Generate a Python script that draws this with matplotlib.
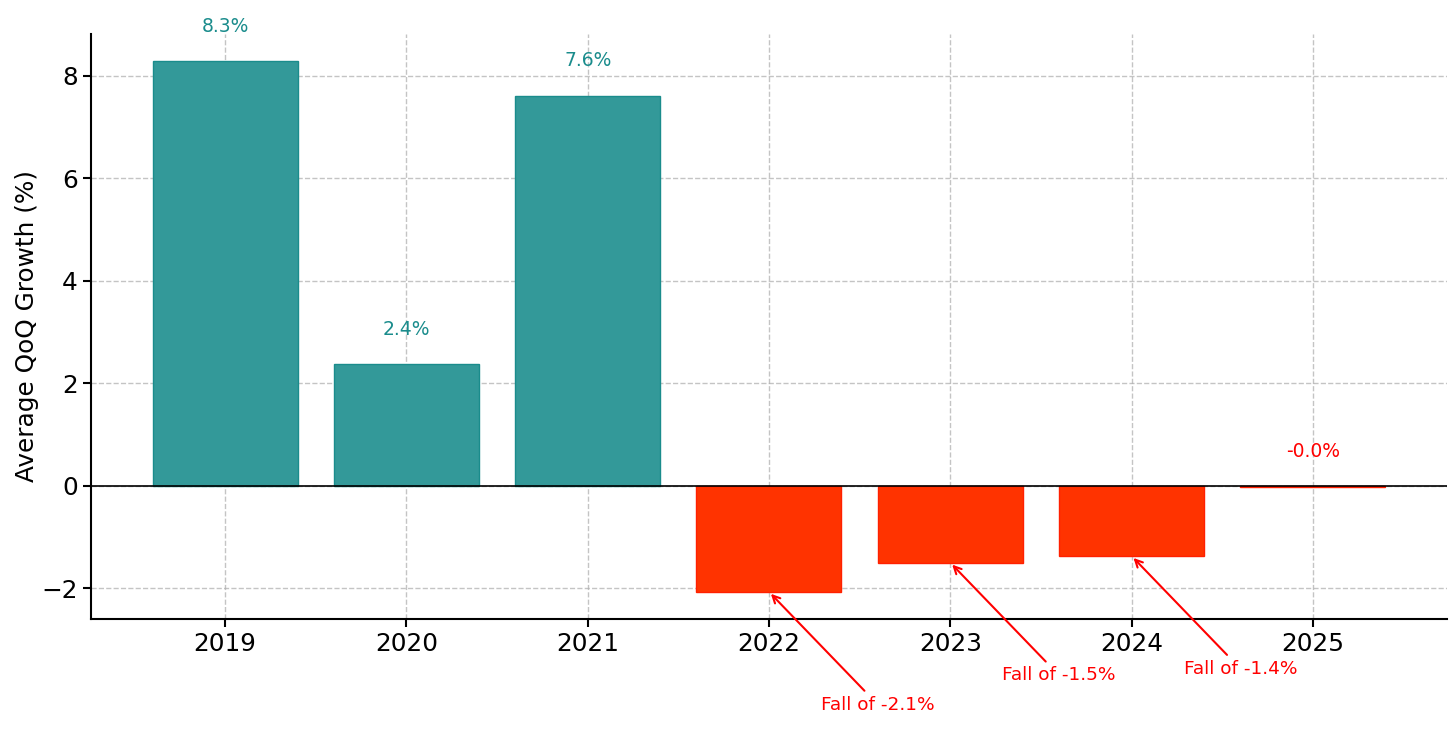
import matplotlib.pyplot as plt
import numpy as np

years = ["2019", "2020", "2021", "2022", "2023", "2024", "2025"]
growth = [8.29, 2.37, 7.61, -2.07, -1.50, -1.37, -0.02]

fig = plt.figure(figsize=(14.56, 7.39), dpi=100)
ax = fig.add_axes([0.0625, 0.1624, 0.9313, 0.7916])

x = np.arange(len(years))
colors = ["#339999" if v >= 0 else "#FF3300" for v in growth]
edges = ["#1a8c8c" if v >= 0 else "#FF2000" for v in growth]
ax.bar(x, growth, width=0.8, color=colors, edgecolor=edges, linewidth=1, zorder=2)

ax.axhline(0, color="black", linewidth=1.2, zorder=3)

for i, v in enumerate(growth):
    if v >= 0:
        ax.text(i, v + 0.5, f"{v:.1f}%", ha="center", va="bottom",
                color="#1a8c8c", fontsize=13.5)
    elif v > -0.5:
        ax.text(i, v + 0.5, f"{v:.1f}%", ha="center", va="bottom",
                color="red", fontsize=13.5)
    else:
        ax.annotate(f"Fall of {v:.1f}%", xy=(i, v), xytext=(i + 0.6, v - 2.2),
                    ha="center", va="center", color="red", fontsize=13.3,
                    arrowprops=dict(arrowstyle="->", color="red", lw=1.5))

ax.set_xticks(x)
ax.set_xticklabels(years)
ax.set_xlim(-0.74, 6.74)
ax.set_ylim(-2.6, 8.82)
ax.set_yticks([-2, 0, 2, 4, 6, 8])
ax.set_yticklabels(["\u22122", "0", "2", "4", "6", "8"])
ax.tick_params(labelsize=17.8, width=1.5, length=6)
ax.set_ylabel("Average QoQ Growth (%)", fontsize=17.8, labelpad=1.5)

ax.grid(True, linestyle="--", color="#b0b0b0", alpha=0.75, linewidth=1, zorder=0)
ax.set_axisbelow(True)
for s in ["top", "right"]:
    ax.spines[s].set_visible(False)
for s in ["left", "bottom"]:
    ax.spines[s].set_linewidth(1.5)

fig.savefig("out.png", dpi=100)
